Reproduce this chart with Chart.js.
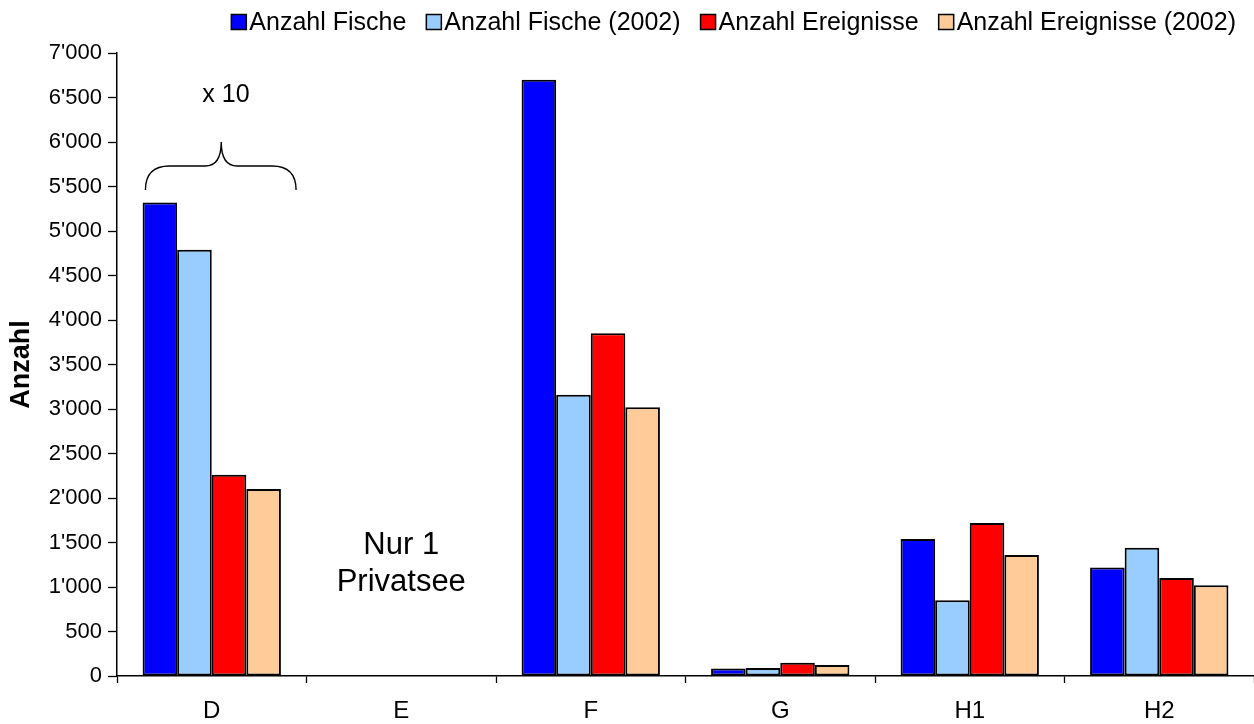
<!DOCTYPE html>
<html>
<head>
<meta charset="utf-8">
<script src="https://cdn.jsdelivr.net/npm/chart.js@4.4.1/dist/chart.umd.min.js"></script>
<style>
    body { margin: 0; background: #fff; }
    canvas { display: block; }
</style>
</head>
<body>
<canvas id="chart" width="1254" height="724"></canvas>
<script>
const categories = ['D', 'E', 'F', 'G', 'H1', 'H2'];
const fische = [5320, null, 6700, 85, 1540, 1220];
const fische2002 = [4790, null, 3160, 90, 850, 1440];
const ereignisse = [2260, null, 3850, 150, 1720, 1100];
const ereignisse2002 = [2100, null, 3020, 125, 1360, 1020];
const yTicks = [0, 500, 1000, 1500, 2000, 2500, 3000, 3500, 4000, 4500, 5000, 5500, 6000, 6500, 7000];

const FONT = '"Liberation Sans", Arial, sans-serif';

function formatTick(value) {
    if (value >= 1000) {
        const rest = String(value % 1000).padStart(3, '0');
        return Math.floor(value / 1000) + "'" + rest;
    }
    return String(value);
}

const datasetsDefault = {
    borderColor: '#000000',
    borderWidth: 2,
    borderSkipped: false,
    barPercentage: 1,
    categoryPercentage: 0.73,
};

// legend drawn by hand, right aligned like the original
const legendPlugin = {
    id: 'legendRight',
    afterDraw(chart) {
        const ctx = chart.ctx;
        ctx.save();
        ctx.font = '25px ' + FONT;
        ctx.textBaseline = 'middle';
        const box = 15, gapText = 3, gapItem = 20;
        const items = chart.data.datasets.map(ds => ({ label: ds.label, color: ds.backgroundColor }));
        let total = 0;
        items.forEach((it, i) => {
            it.w = ctx.measureText(it.label).width;
            total += box + gapText + it.w + (i > 0 ? gapItem : 0);
        });
        let x = 1236 - total;
        const y = 22;
        items.forEach(it => {
            ctx.fillStyle = it.color;
            ctx.fillRect(x, y - box / 2, box, box);
            ctx.strokeStyle = '#000';
            ctx.lineWidth = 1.5;
            ctx.strokeRect(x, y - box / 2, box, box);
            x += box + gapText;
            ctx.fillStyle = '#000';
            ctx.textAlign = 'left';
            ctx.fillText(it.label, x, y + 1);
            x += it.w + gapItem;
        });
        ctx.restore();
    }
};

// brace with "x 10" over D, and the note for E
const notesPlugin = {
    id: 'notes',
    afterDraw(chart) {
        const ctx = chart.ctx;
        const xs = chart.scales.x;
        const ys = chart.scales.y;
        ctx.save();
        ctx.strokeStyle = '#000';
        ctx.lineWidth = 1.4;
        const x0 = xs.getPixelForValue(-0.35);
        const xm = xs.getPixelForValue(0.05);
        const x1 = xs.getPixelForValue(0.445);
        const yEnd = ys.getPixelForValue(5460);
        const yMid = ys.getPixelForValue(5730);
        const yTip = ys.getPixelForValue(6000);
        ctx.beginPath();
        ctx.moveTo(x0, yEnd);
        ctx.quadraticCurveTo(x0, yMid, x0 + 24, yMid);
        ctx.lineTo(xm - 16, yMid);
        ctx.quadraticCurveTo(xm, yMid, xm, yTip);
        ctx.quadraticCurveTo(xm, yMid, xm + 16, yMid);
        ctx.lineTo(x1 - 24, yMid);
        ctx.quadraticCurveTo(x1, yMid, x1, yEnd);
        ctx.stroke();

        ctx.fillStyle = '#000';
        ctx.textAlign = 'center';
        ctx.textBaseline = 'middle';
        ctx.font = '25px ' + FONT;
        ctx.fillText('x 10', xs.getPixelForValue(0.075), ys.getPixelForValue(6530));
        ctx.font = '31px ' + FONT;
        ctx.fillText('Nur 1', xs.getPixelForValue(1), ys.getPixelForValue(1470));
        ctx.fillText('Privatsee', xs.getPixelForValue(1), ys.getPixelForValue(1050));
        ctx.restore();
    }
};

const ctx = document.getElementById('chart').getContext('2d');
const chart = new Chart(ctx, {
    type: 'bar',
    data: {
        labels: categories,
        datasets: [
            { label: 'Anzahl Fische', data: fische, backgroundColor: '#0000FF', ...datasetsDefault },
            { label: 'Anzahl Fische (2002)', data: fische2002, backgroundColor: '#99CCFF', ...datasetsDefault },
            { label: 'Anzahl Ereignisse', data: ereignisse, backgroundColor: '#FF0000', ...datasetsDefault },
            { label: 'Anzahl Ereignisse (2002)', data: ereignisse2002, backgroundColor: '#FFCC99', ...datasetsDefault },
        ]
    },
    options: {
        responsive: false,
        devicePixelRatio: 1,
        animation: false,
        layout: { padding: { top: 53, right: 0, left: 0, bottom: 0 } },
        plugins: {
            legend: { display: false },
            tooltip: { enabled: false },
        },
        scales: {
            x: {
                grid: {
                    display: true,
                    offset: true,
                    drawOnChartArea: false,
                    tickLength: 7,
                    tickColor: '#000',
                    tickWidth: 1.3,
                },
                border: { color: '#000', width: 1.5 },
                ticks: {
                    color: '#000',
                    font: { family: FONT, size: 24 },
                    padding: 14,
                    maxRotation: 0,
                },
                afterFit: (scale) => { scale.height = 48; },
            },
            y: {
                min: 0,
                max: 7000,
                afterBuildTicks: (scale) => {
                    scale.ticks = yTicks.map(v => ({ value: v }));
                },
                grid: {
                    drawOnChartArea: false,
                    tickLength: 9,
                    tickColor: '#000',
                    tickWidth: 1.3,
                },
                border: { color: '#000', width: 1.5 },
                ticks: {
                    color: '#000',
                    font: { family: FONT, size: 22 },
                    padding: 6,
                    callback: (value) => formatTick(value),
                },
                title: {
                    display: true,
                    text: 'Anzahl',
                    color: '#000',
                    font: { family: FONT, size: 27, weight: 'bold' },
                    padding: { top: 5, bottom: 0 },
                },
                afterFit: (scale) => { scale.width = 117; },
            }
        }
    },
    plugins: [legendPlugin, notesPlugin]
});
</script>
</body>
</html>
